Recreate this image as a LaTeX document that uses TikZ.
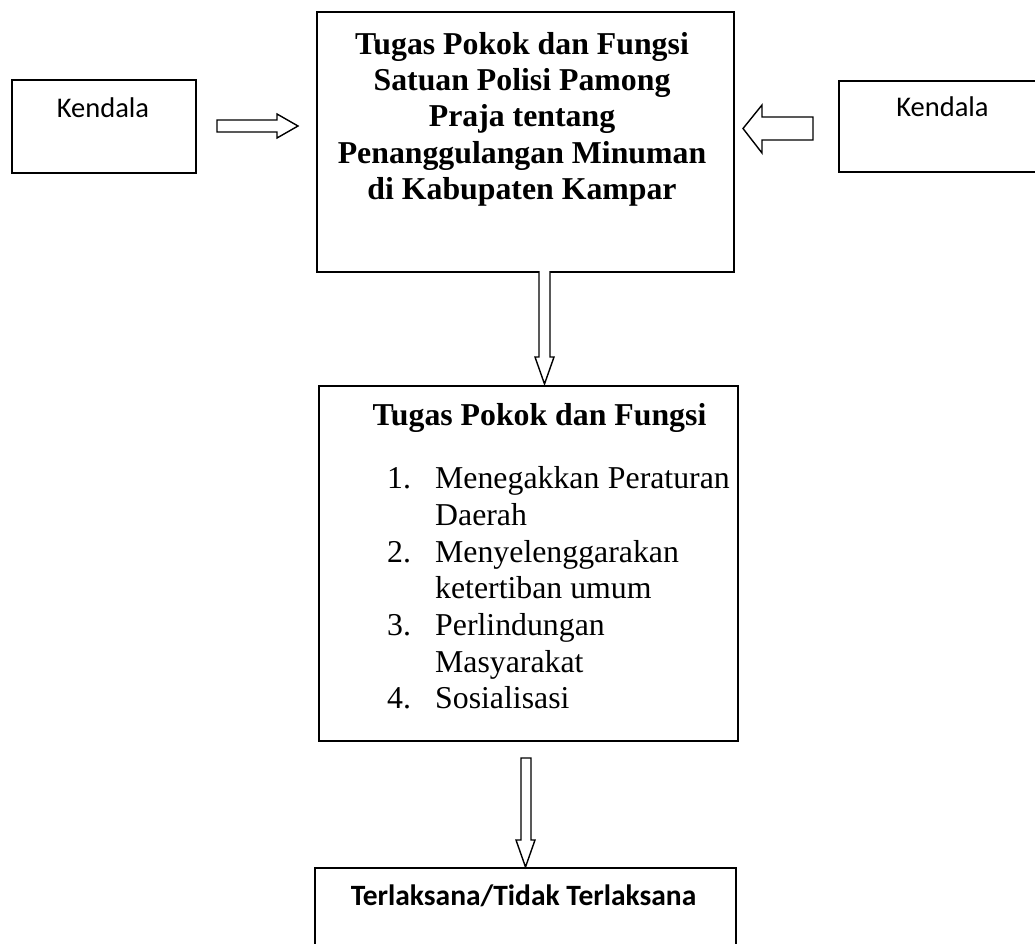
\documentclass[tikz,border=0pt]{standalone}
\usepackage{fontspec}
\setmainfont{Liberation Serif}
\newfontfamily\calfont{Carlito}
\begin{document}
\begin{tikzpicture}[x=1pt,y=-1pt,
  box/.style={draw,line width=1.6pt,inner sep=0pt,anchor=north west},
  barrow/.style={draw,line width=1.4pt,fill=white,line join=miter},
  bigb/.style={font=\fontsize{31.8}{36}\selectfont\bfseries,inner sep=0pt,anchor=base},
  reg/.style={font=\fontsize{31.8}{36}\selectfont,inner sep=0pt,anchor=base west},
  kend/.style={font=\calfont\fontsize{28.5}{32}\selectfont,inner sep=0pt,anchor=base},
  terl/.style={font=\calfont\bfseries\fontsize{29.5}{32}\selectfont,inner sep=0pt,anchor=base}]
\useasboundingbox (0,0) rectangle (1035,944);
\clip (0,0) rectangle (1035,944);
\fill[white] (0,0) rectangle (1035,944);

% boxes
\node[box,minimum width=184pt,minimum height=93pt] (kl) at (11,79) {};
\node[box,minimum width=220pt,minimum height=91pt] (kr) at (838,80) {};
\node[box,minimum width=417pt,minimum height=260pt] (main) at (316,11) {};
\node[box,minimum width=419pt,minimum height=355pt] (tp) at (318,385) {};
\node[box,minimum width=421pt,minimum height=140pt] (tl) at (314,867) {};

% texts
\node[kend] (klt) at (103,118) {Kendala};
\node[kend] (krt) at (942.5,117) {Kendala};

\node[bigb] (m1) at (522,55) {Tugas Pokok dan Fungsi};
\node[bigb] (m2) at (522,91) {Satuan Polisi Pamong};
\node[bigb] (m3) at (522,127) {Praja tentang};
\node[bigb] (m4) at (522,164) {Penanggulangan Minuman};
\node[bigb] (m5) at (522,200) {di Kabupaten Kampar};

\node[bigb] (t0) at (539.5,425) {Tugas Pokok dan Fungsi};
\node[reg] (n1) at (387,488) {1.};
\node[reg] (i1a) at (435,488) {Menegakkan};
\node[font=\fontsize{31.8}{36}\selectfont,inner sep=0pt,anchor=base east] (i1b) at (730,488) {Peraturan};
\node[reg] (i1c) at (435,525) {Daerah};
\node[reg] (n2) at (387,562) {2.};
\node[reg] (i2a) at (435,562) {Menyelenggarakan};
\node[reg] (i2b) at (435,598) {ketertiban umum};
\node[reg] (n3) at (387,635) {3.};
\node[reg] (i3a) at (435,635) {Perlindungan};
\node[reg] (i3b) at (435,672) {Masyarakat};
\node[reg] (n4) at (387,708) {4.};
\node[reg] (i4a) at (435,708) {Sosialisasi};

\node[terl] (tlt) at (523.5,905) {Terlaksana/Tidak Terlaksana};

% block arrows
\coordinate (a1s) at (217,126);
\coordinate (a1e) at (298,126);
\draw[barrow] (a1s) ++(0,-6) -- (277,120) -- (277,114) -- (a1e) -- (277,138) -- (277,132) -- (217,132) -- cycle;

\coordinate (a2s) at (813,128.5);
\coordinate (a2e) at (743,128.5);
\draw[barrow] (813,117) -- (762,117) -- (762,105) -- (a2e) -- (762,153) -- (762,140) -- (813,140) -- cycle;

\draw[barrow] (539,271) -- (539,357) -- (535,357) -- (544.5,384) -- (554,357) -- (550,357) -- (550,271);

\draw[barrow] (521,758) -- (521,840) -- (516,840) -- (525.5,867) -- (535,840) -- (531,840) -- (531,758) -- cycle;
\end{tikzpicture}
\end{document}
